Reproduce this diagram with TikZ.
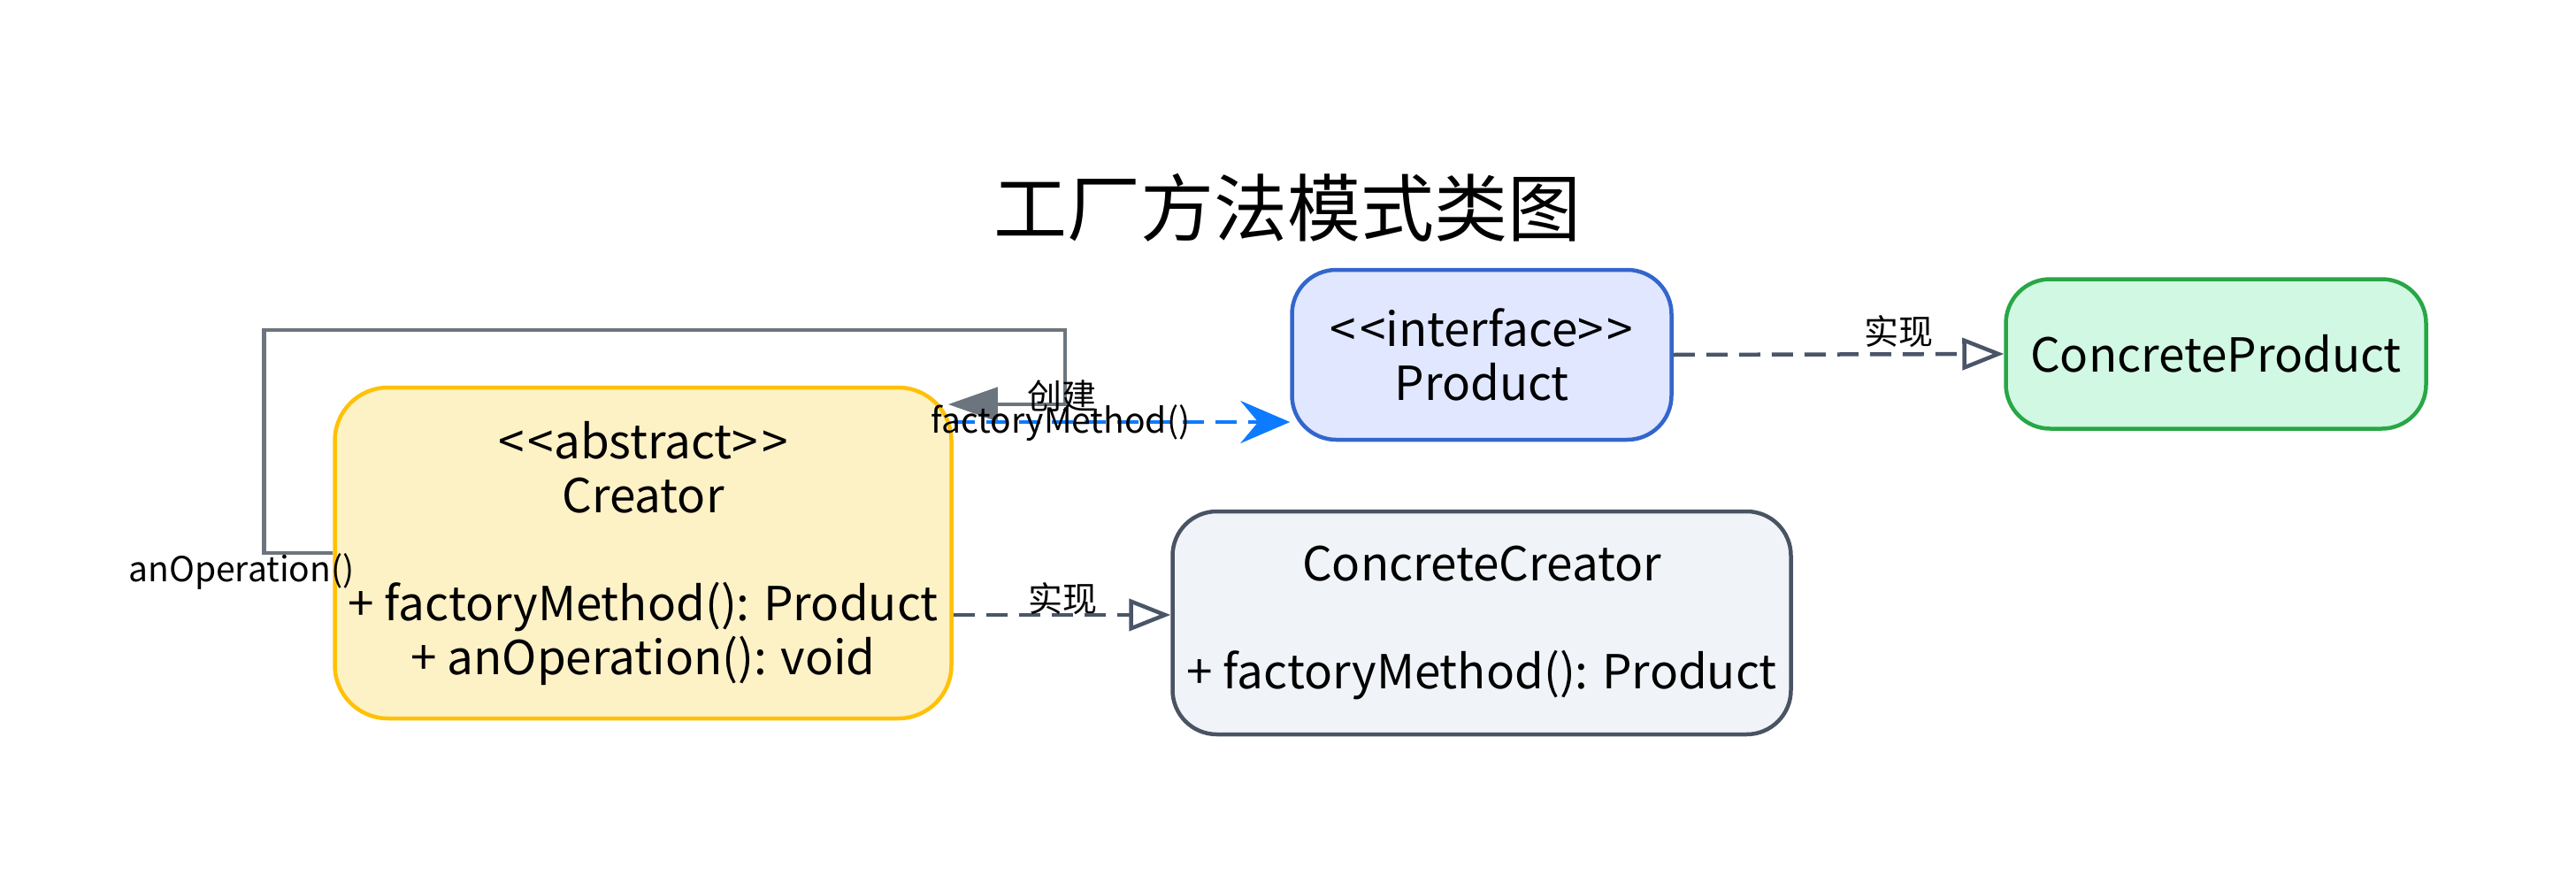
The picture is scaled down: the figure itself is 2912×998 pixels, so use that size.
\documentclass[tikz,border=0pt]{standalone}
\usepackage{fontspec}
\setmainfont{Noto Sans CJK SC}
\usetikzlibrary{arrows.meta}
\definecolor{creatorfill}{HTML}{FDF1C6}
\definecolor{creatorline}{HTML}{FFC107}
\definecolor{productfill}{HTML}{E0E7FF}
\definecolor{productline}{HTML}{3366CC}
\definecolor{cproductfill}{HTML}{D1F8E3}
\definecolor{cproductline}{HTML}{28A745}
\definecolor{ccreatorfill}{HTML}{F0F3F8}
\definecolor{ccreatorline}{HTML}{4A5363}
\definecolor{loopgray}{HTML}{6C757D}
\definecolor{callblue}{HTML}{0D7BFF}
\definecolor{realizegray}{HTML}{4A5568}
\newcommand{\stereo}[1]{<\kern4pt<#1>\kern4pt>}

\begin{document}
\begin{tikzpicture}[x=1pt,y=-1pt,
    umlbox/.style={draw, line width=4.5pt, rounded corners=50pt, inner sep=0pt, align=center, font=\fontsize{53}{61}\selectfont},
    lbl/.style={inner sep=0pt, font=\fontsize{39}{44}\selectfont},
    selfcall/.style={draw=loopgray, line width=4.5pt, -{Triangle[length=56pt,width=38pt]}},
    createcall/.style={draw=callblue, line width=4.5pt, dash pattern=on 24pt off 13pt, -{Stealth[length=56pt,width=48pt,inset=20pt]}},
    realize/.style={draw=realizegray, line width=4.5pt, dash pattern=on 24pt off 13pt, -{Triangle[open,length=47pt,width=36pt,fill=white]}}]
    \useasboundingbox (0,0) rectangle (2912,998);
    % Title
    \node (title) at (1455,235) {\fontsize{83}{90}\selectfont 工厂方法模式类图};
    % Classes
    \node[umlbox, fill=creatorfill, draw=creatorline, rounded corners=60pt, minimum width=697pt, minimum height=374pt] (creator) at (727,625)
        {\stereo{abstract}\\Creator\\[61pt]+ factoryMethod(): Product\\+ anOperation(): void};
    \node[umlbox, fill=productfill, draw=productline, minimum width=429pt, minimum height=192pt] (product) at (1675,401)
        {\stereo{interface}\\Product};
    \node[umlbox, fill=cproductfill, draw=cproductline, minimum width=475pt, minimum height=169pt] (cproduct) at (2505,400)
        {ConcreteProduct};
    \node[umlbox, fill=ccreatorfill, draw=ccreatorline, minimum width=699pt, minimum height=252pt] (ccreator) at (1675,704)
        {ConcreteCreator\\[61pt]+ factoryMethod(): Product};
    % Connectors
    \draw[selfcall] (creator.west) -- ++(-78,0) |- (1204,373) |- ([xshift=-6pt]creator.east |- 0,457);
    \draw[createcall] (creator.east |- 0,477) -- (product.west |- 0,477);
    \draw[realize] (product.east) -- (cproduct.west);
    \draw[realize] (creator.east |- 0,695) -- (ccreator.west |- 0,695);
    % Labels on connectors
    \node[lbl] (create) at (1200,448) {创建};
    \node[lbl] (fmcall) at (1199,478) {factoryMethod()};
    \node[lbl] (opcall) at (273,646) {anOperation()};
    \node[lbl] (impl1) at (1201,677) {实现};
    \node[lbl] (impl2) at (2146,375) {实现};
\end{tikzpicture}
\end{document}
